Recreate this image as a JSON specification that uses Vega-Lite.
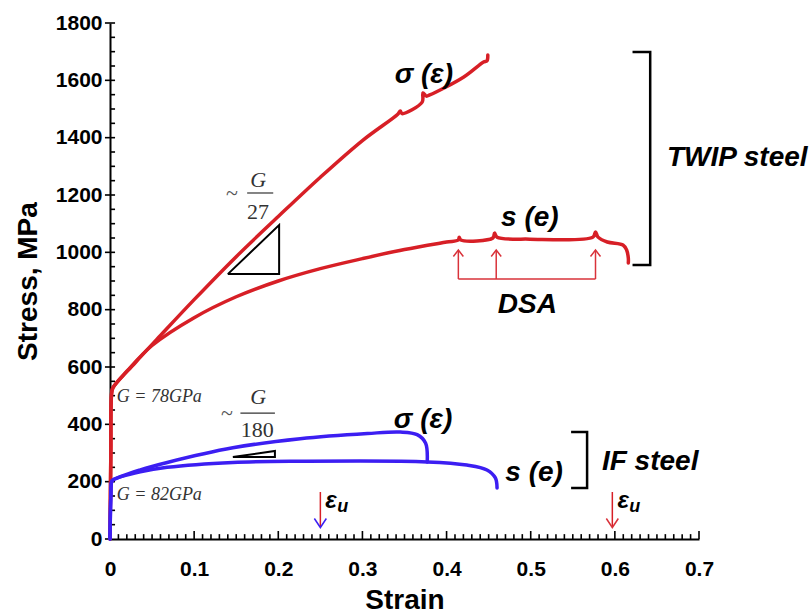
{
  "$schema": "https://vega.github.io/schema/vega-lite/v6.json",
  "width": 589,
  "height": 516,
  "autosize": "none",
  "padding": {"left": 110, "top": 23, "right": 113, "bottom": 75},
  "background": "white",
  "config": {"view": {"stroke": null}, "axis": {"labelFlush": false, "grid": false}},
  "datasets": {
    "curves": [
      {"curve": "TWIP σ", "strain": 0, "stress": 0},
      {"curve": "TWIP σ", "strain": 0.001, "stress": 300},
      {"curve": "TWIP σ", "strain": 0.002, "stress": 510},
      {"curve": "TWIP σ", "strain": 0.0036, "stress": 528},
      {"curve": "TWIP σ", "strain": 0.03, "stress": 615},
      {"curve": "TWIP σ", "strain": 0.06, "stress": 710},
      {"curve": "TWIP σ", "strain": 0.1, "stress": 835},
      {"curve": "TWIP σ", "strain": 0.15, "stress": 985},
      {"curve": "TWIP σ", "strain": 0.2, "stress": 1125},
      {"curve": "TWIP σ", "strain": 0.25, "stress": 1262},
      {"curve": "TWIP σ", "strain": 0.3, "stress": 1390},
      {"curve": "TWIP σ", "strain": 0.342, "stress": 1482},
      {"curve": "TWIP σ", "strain": 0.345, "stress": 1493},
      {"curve": "TWIP σ", "strain": 0.347, "stress": 1484},
      {"curve": "TWIP σ", "strain": 0.371, "stress": 1524},
      {"curve": "TWIP σ", "strain": 0.372, "stress": 1556},
      {"curve": "TWIP σ", "strain": 0.376, "stress": 1545},
      {"curve": "TWIP σ", "strain": 0.38, "stress": 1549},
      {"curve": "TWIP σ", "strain": 0.42, "stress": 1611},
      {"curve": "TWIP σ", "strain": 0.444, "stress": 1664},
      {"curve": "TWIP σ", "strain": 0.448, "stress": 1668},
      {"curve": "TWIP σ", "strain": 0.449, "stress": 1688},
      {"curve": "TWIP s", "strain": 0, "stress": 0},
      {"curve": "TWIP s", "strain": 0.001, "stress": 300},
      {"curve": "TWIP s", "strain": 0.002, "stress": 510},
      {"curve": "TWIP s", "strain": 0.0036, "stress": 528},
      {"curve": "TWIP s", "strain": 0.02, "stress": 585},
      {"curve": "TWIP s", "strain": 0.05, "stress": 675},
      {"curve": "TWIP s", "strain": 0.1, "stress": 772},
      {"curve": "TWIP s", "strain": 0.15, "stress": 845},
      {"curve": "TWIP s", "strain": 0.2, "stress": 900},
      {"curve": "TWIP s", "strain": 0.25, "stress": 943},
      {"curve": "TWIP s", "strain": 0.3, "stress": 978},
      {"curve": "TWIP s", "strain": 0.35, "stress": 1010},
      {"curve": "TWIP s", "strain": 0.4, "stress": 1036},
      {"curve": "TWIP s", "strain": 0.414, "stress": 1043},
      {"curve": "TWIP s", "strain": 0.415, "stress": 1053},
      {"curve": "TWIP s", "strain": 0.417, "stress": 1043},
      {"curve": "TWIP s", "strain": 0.455, "stress": 1050},
      {"curve": "TWIP s", "strain": 0.457, "stress": 1067},
      {"curve": "TWIP s", "strain": 0.46, "stress": 1053},
      {"curve": "TWIP s", "strain": 0.499, "stress": 1046},
      {"curve": "TWIP s", "strain": 0.574, "stress": 1053},
      {"curve": "TWIP s", "strain": 0.577, "stress": 1071},
      {"curve": "TWIP s", "strain": 0.58, "stress": 1053},
      {"curve": "TWIP s", "strain": 0.591, "stress": 1036},
      {"curve": "TWIP s", "strain": 0.61, "stress": 1025},
      {"curve": "TWIP s", "strain": 0.614, "stress": 1008},
      {"curve": "TWIP s", "strain": 0.616, "stress": 980},
      {"curve": "TWIP s", "strain": 0.616, "stress": 963},
      {"curve": "IF σ", "strain": 0, "stress": 0},
      {"curve": "IF σ", "strain": 0.001, "stress": 150},
      {"curve": "IF σ", "strain": 0.002, "stress": 200},
      {"curve": "IF σ", "strain": 0.0036, "stress": 206},
      {"curve": "IF σ", "strain": 0.036, "stress": 241},
      {"curve": "IF σ", "strain": 0.068, "stress": 267},
      {"curve": "IF σ", "strain": 0.146, "stress": 318},
      {"curve": "IF σ", "strain": 0.226, "stress": 350},
      {"curve": "IF σ", "strain": 0.306, "stress": 368},
      {"curve": "IF σ", "strain": 0.345, "stress": 373},
      {"curve": "IF σ", "strain": 0.365, "stress": 364},
      {"curve": "IF σ", "strain": 0.375, "stress": 335},
      {"curve": "IF σ", "strain": 0.377, "stress": 269},
      {"curve": "IF s", "strain": 0, "stress": 0},
      {"curve": "IF s", "strain": 0.001, "stress": 150},
      {"curve": "IF s", "strain": 0.002, "stress": 200},
      {"curve": "IF s", "strain": 0.0036, "stress": 206},
      {"curve": "IF s", "strain": 0.036, "stress": 234},
      {"curve": "IF s", "strain": 0.068, "stress": 250},
      {"curve": "IF s", "strain": 0.146, "stress": 267},
      {"curve": "IF s", "strain": 0.226, "stress": 271},
      {"curve": "IF s", "strain": 0.377, "stress": 269},
      {"curve": "IF s", "strain": 0.424, "stress": 258},
      {"curve": "IF s", "strain": 0.448, "stress": 241},
      {"curve": "IF s", "strain": 0.458, "stress": 213},
      {"curve": "IF s", "strain": 0.46, "stress": 178}
    ],
    "xMinor": [
      {"v": 0.01}, {"v": 0.02}, {"v": 0.03}, {"v": 0.04}, {"v": 0.05}, {"v": 0.06}, {"v": 0.07}, {"v": 0.08}, {"v": 0.09},
      {"v": 0.11}, {"v": 0.12}, {"v": 0.13}, {"v": 0.14}, {"v": 0.15}, {"v": 0.16}, {"v": 0.17}, {"v": 0.18}, {"v": 0.19},
      {"v": 0.21}, {"v": 0.22}, {"v": 0.23}, {"v": 0.24}, {"v": 0.25}, {"v": 0.26}, {"v": 0.27}, {"v": 0.28}, {"v": 0.29},
      {"v": 0.31}, {"v": 0.32}, {"v": 0.33}, {"v": 0.34}, {"v": 0.35}, {"v": 0.36}, {"v": 0.37}, {"v": 0.38}, {"v": 0.39},
      {"v": 0.41}, {"v": 0.42}, {"v": 0.43}, {"v": 0.44}, {"v": 0.45}, {"v": 0.46}, {"v": 0.47}, {"v": 0.48}, {"v": 0.49},
      {"v": 0.51}, {"v": 0.52}, {"v": 0.53}, {"v": 0.54}, {"v": 0.55}, {"v": 0.56}, {"v": 0.57}, {"v": 0.58}, {"v": 0.59},
      {"v": 0.61}, {"v": 0.62}, {"v": 0.63}, {"v": 0.64}, {"v": 0.65}, {"v": 0.66}, {"v": 0.67}, {"v": 0.68}, {"v": 0.69}
    ],
    "xMajor": [{"v": 0.1}, {"v": 0.2}, {"v": 0.3}, {"v": 0.4}, {"v": 0.5}, {"v": 0.6}, {"v": 0.7}],
    "yMinor": [
      {"v": 50}, {"v": 100}, {"v": 150}, {"v": 200}, {"v": 250}, {"v": 300}, {"v": 350}, {"v": 400}, {"v": 450}, {"v": 500},
      {"v": 550}, {"v": 600}, {"v": 650}, {"v": 700}, {"v": 750}, {"v": 800}, {"v": 850}, {"v": 900}, {"v": 950}, {"v": 1000},
      {"v": 1050}, {"v": 1100}, {"v": 1150}, {"v": 1200}, {"v": 1250}, {"v": 1300}, {"v": 1350}, {"v": 1400}, {"v": 1450}, {"v": 1500},
      {"v": 1550}, {"v": 1600}, {"v": 1650}, {"v": 1700}, {"v": 1750}, {"v": 1800}
    ],
    "yMajor": [{"v": 0}, {"v": 200}, {"v": 400}, {"v": 600}, {"v": 800}, {"v": 1000}, {"v": 1200}, {"v": 1400}, {"v": 1600}, {"v": 1800}],
    "triangles": [
      {"g": "t1", "strain": 0.14, "stress": 924},
      {"g": "t1", "strain": 0.201, "stress": 924},
      {"g": "t1", "strain": 0.201, "stress": 1095},
      {"g": "t1", "strain": 0.14, "stress": 924},
      {"g": "t2", "strain": 0.146, "stress": 286},
      {"g": "t2", "strain": 0.196, "stress": 286},
      {"g": "t2", "strain": 0.196, "stress": 307},
      {"g": "t2", "strain": 0.146, "stress": 286}
    ],
    "brackets": [
      {"g": "b1", "strain": 0.621, "stress": 1699},
      {"g": "b1", "strain": 0.642, "stress": 1699},
      {"g": "b1", "strain": 0.642, "stress": 956},
      {"g": "b1", "strain": 0.621, "stress": 956},
      {"g": "b2", "strain": 0.548, "stress": 373},
      {"g": "b2", "strain": 0.567, "stress": 373},
      {"g": "b2", "strain": 0.567, "stress": 178},
      {"g": "b2", "strain": 0.548, "stress": 178}
    ],
    "dsaLines": [
      {"g": "d1", "strain": 0.414, "stress": 907},
      {"g": "d1", "strain": 0.414, "stress": 1006},
      {"g": "d2", "strain": 0.459, "stress": 907},
      {"g": "d2", "strain": 0.459, "stress": 1006},
      {"g": "d3", "strain": 0.577, "stress": 907},
      {"g": "d3", "strain": 0.577, "stress": 1006},
      {"g": "d4", "strain": 0.414, "stress": 907},
      {"g": "d4", "strain": 0.577, "stress": 907}
    ],
    "dsaHeads": [
      {"strain": 0.414, "stress": 1008},
      {"strain": 0.459, "stress": 1008},
      {"strain": 0.577, "stress": 1008}
    ],
    "euLines": [
      {"steel": "IF", "strain": 0.25, "stress": 164},
      {"steel": "IF", "strain": 0.25, "stress": 42},
      {"steel": "TWIP", "strain": 0.597, "stress": 164},
      {"steel": "TWIP", "strain": 0.597, "stress": 42}
    ],
    "euHeads": [
      {"steel": "IF", "strain": 0.25, "stress": 40},
      {"steel": "TWIP", "strain": 0.597, "stress": 40}
    ],
    "fracLines": [
      {"g": "f1", "strain": 0.163, "stress": 1207},
      {"g": "f1", "strain": 0.194, "stress": 1207},
      {"g": "f2", "strain": 0.155, "stress": 439},
      {"g": "f2", "strain": 0.196, "stress": 439}
    ],
    "labels": [
      {"t": "σ (ε)", "strain": 0.373, "stress": 1618},
      {"t": "σ (ε)", "strain": 0.372, "stress": 415},
      {"t": "s (e)", "strain": 0.499, "stress": 1120},
      {"t": "s (e)", "strain": 0.504, "stress": 230},
      {"t": "TWIP steel", "strain": 0.7455, "stress": 1329},
      {"t": "IF steel", "strain": 0.642, "stress": 269},
      {"t": "DSA", "strain": 0.496, "stress": 816}
    ],
    "eps": [
      {"t": "ε", "strain": 0.2557, "stress": 108},
      {"t": "ε", "strain": 0.603, "stress": 108}
    ],
    "subs": [
      {"t": "u", "strain": 0.27, "stress": 94},
      {"t": "u", "strain": 0.617, "stress": 94}
    ],
    "moduli": [
      {"t": "G = 78GPa", "strain": 0.008, "stress": 495},
      {"t": "G = 82GPa", "strain": 0.008, "stress": 153}
    ],
    "fracG": [
      {"t": "G", "strain": 0.176, "stress": 1252},
      {"t": "G", "strain": 0.176, "stress": 495}
    ],
    "fracNum": [
      {"t": "27", "strain": 0.176, "stress": 1141},
      {"t": "180", "strain": 0.175, "stress": 380}
    ],
    "tilde": [
      {"t": "~", "strain": 0.145, "stress": 1207},
      {"t": "~", "strain": 0.139, "stress": 439}
    ]
  },
  "layer": [
    {
      "data": {"name": "xMinor"},
      "mark": {"type": "rule", "color": "black", "strokeWidth": 1.6},
      "encoding": {
        "x": {"field": "v", "type": "quantitative", "scale": {"domain": [0, 0.7], "nice": false, "zero": false},
          "axis": {"orient": "bottom", "values": [0, 0.1, 0.2, 0.3, 0.4, 0.5, 0.6, 0.7], "format": "~g", "title": "Strain",
            "ticks": false, "grid": false, "domain": true, "domainColor": "black", "domainWidth": 2, "labelFlush": false,
            "labelFont": "Liberation Sans", "labelFontWeight": "bold", "labelFontSize": 21, "labelColor": "black", "labelPadding": 19,
            "titleFont": "Liberation Sans", "titleFontWeight": "bold", "titleFontSize": 28, "titleColor": "black", "titlePadding": 7}},
        "y": {"datum": 0, "type": "quantitative", "scale": {"domain": [0, 1800], "nice": false, "zero": false},
          "axis": {"orient": "left", "values": [0, 200, 400, 600, 800, 1000, 1200, 1400, 1600, 1800], "format": "d", "title": "Stress, MPa",
            "ticks": false, "grid": false, "domain": true, "domainColor": "black", "domainWidth": 2,
            "labelFont": "Liberation Sans", "labelFontWeight": "bold", "labelFontSize": 21, "labelColor": "black", "labelPadding": 8,
            "titleFont": "Liberation Sans", "titleFontWeight": "bold", "titleFontSize": 28, "titleColor": "black", "titlePadding": 13}},
        "y2": {"datum": 17}
      }
    },
    {
      "data": {"name": "xMajor"},
      "mark": {"type": "rule", "color": "black", "strokeWidth": 1.6},
      "encoding": {
        "x": {"field": "v", "type": "quantitative"},
        "y": {"datum": 0, "type": "quantitative"},
        "y2": {"datum": 28}
      }
    },
    {
      "data": {"name": "yMinor"},
      "mark": {"type": "rule", "color": "black", "strokeWidth": 1.6},
      "encoding": {
        "y": {"field": "v", "type": "quantitative"},
        "x": {"datum": 0, "type": "quantitative"},
        "x2": {"datum": 0.006}
      }
    },
    {
      "data": {"name": "yMajor"},
      "mark": {"type": "rule", "color": "black", "strokeWidth": 1.6},
      "encoding": {
        "y": {"field": "v", "type": "quantitative"},
        "x": {"datum": -0.006, "type": "quantitative"},
        "x2": {"datum": 0}
      }
    },
    {
      "data": {"name": "curves"},
      "mark": {"type": "line", "strokeWidth": 3.5, "strokeJoin": "round", "strokeCap": "round", "interpolate": "catmull-rom"},
      "encoding": {
        "x": {"field": "strain", "type": "quantitative"},
        "y": {"field": "stress", "type": "quantitative"},
        "color": {"field": "curve", "type": "nominal", "legend": null,
          "scale": {"domain": ["TWIP σ", "TWIP s", "IF σ", "IF s"], "range": ["#d71f26", "#d71f26", "#3c1ef2", "#3c1ef2"]}},
        "order": {"value": null}
      }
    },
    {
      "data": {"name": "triangles"},
      "mark": {"type": "line", "color": "black", "strokeWidth": 2},
      "encoding": {
        "x": {"field": "strain", "type": "quantitative"},
        "y": {"field": "stress", "type": "quantitative"},
        "detail": {"field": "g"},
        "order": {"value": null}
      }
    },
    {
      "data": {"name": "brackets"},
      "mark": {"type": "line", "color": "black", "strokeWidth": 2.5},
      "encoding": {
        "x": {"field": "strain", "type": "quantitative"},
        "y": {"field": "stress", "type": "quantitative"},
        "detail": {"field": "g"},
        "order": {"value": null}
      }
    },
    {
      "data": {"name": "dsaLines"},
      "mark": {"type": "line", "color": "#d9323a", "strokeWidth": 1.5},
      "encoding": {
        "x": {"field": "strain", "type": "quantitative"},
        "y": {"field": "stress", "type": "quantitative"},
        "detail": {"field": "g"},
        "order": {"value": null}
      }
    },
    {
      "data": {"name": "dsaHeads"},
      "mark": {"type": "point", "shape": "M-1,1.3L0,0L1,1.3", "filled": false, "stroke": "#d9323a", "strokeWidth": 1.5, "size": 100, "opacity": 1},
      "encoding": {
        "x": {"field": "strain", "type": "quantitative"},
        "y": {"field": "stress", "type": "quantitative"}
      }
    },
    {
      "data": {"name": "euLines"},
      "mark": {"type": "line", "strokeWidth": 1.5},
      "encoding": {
        "x": {"field": "strain", "type": "quantitative"},
        "y": {"field": "stress", "type": "quantitative"},
        "color": {"field": "steel", "type": "nominal", "legend": null, "scale": {"domain": ["IF", "TWIP"], "range": ["#3c1ef2", "#d9323a"]}},
        "order": {"value": null}
      }
    },
    {
      "data": {"name": "euHeads"},
      "mark": {"type": "point", "shape": "M-1,-1.5L0,0L1,-1.5", "filled": false, "strokeWidth": 1.5, "size": 144, "opacity": 1},
      "encoding": {
        "x": {"field": "strain", "type": "quantitative"},
        "y": {"field": "stress", "type": "quantitative"},
        "stroke": {"field": "steel", "type": "nominal", "legend": null, "scale": {"domain": ["IF", "TWIP"], "range": ["#3c1ef2", "#d9323a"]}}
      }
    },
    {
      "data": {"name": "fracLines"},
      "mark": {"type": "line", "color": "#333333", "strokeWidth": 1.2},
      "encoding": {
        "x": {"field": "strain", "type": "quantitative"},
        "y": {"field": "stress", "type": "quantitative"},
        "detail": {"field": "g"}
      }
    },
    {
      "data": {"name": "labels"},
      "mark": {"type": "text", "font": "Liberation Sans", "fontWeight": "bold", "fontStyle": "italic", "fontSize": 28, "color": "black", "align": "center", "baseline": "middle"},
      "encoding": {
        "x": {"field": "strain", "type": "quantitative"},
        "y": {"field": "stress", "type": "quantitative"},
        "text": {"field": "t"}
      }
    },
    {
      "data": {"name": "eps"},
      "mark": {"type": "text", "font": "Liberation Sans", "fontWeight": "bold", "fontStyle": "italic", "fontSize": 24, "color": "black", "align": "left", "baseline": "alphabetic"},
      "encoding": {
        "x": {"field": "strain", "type": "quantitative"},
        "y": {"field": "stress", "type": "quantitative"},
        "text": {"field": "t"}
      }
    },
    {
      "data": {"name": "subs"},
      "mark": {"type": "text", "font": "Liberation Sans", "fontWeight": "bold", "fontStyle": "italic", "fontSize": 18, "color": "black", "align": "left", "baseline": "alphabetic"},
      "encoding": {
        "x": {"field": "strain", "type": "quantitative"},
        "y": {"field": "stress", "type": "quantitative"},
        "text": {"field": "t"}
      }
    },
    {
      "data": {"name": "moduli"},
      "mark": {"type": "text", "font": "Liberation Serif", "fontStyle": "italic", "fontSize": 18, "color": "#333333", "align": "left", "baseline": "middle"},
      "encoding": {
        "x": {"field": "strain", "type": "quantitative"},
        "y": {"field": "stress", "type": "quantitative"},
        "text": {"field": "t"}
      }
    },
    {
      "data": {"name": "fracG"},
      "mark": {"type": "text", "font": "Liberation Serif", "fontStyle": "italic", "fontSize": 22, "color": "#333333", "align": "center", "baseline": "middle"},
      "encoding": {
        "x": {"field": "strain", "type": "quantitative"},
        "y": {"field": "stress", "type": "quantitative"},
        "text": {"field": "t"}
      }
    },
    {
      "data": {"name": "fracNum"},
      "mark": {"type": "text", "font": "Liberation Serif", "fontSize": 22, "color": "#333333", "align": "center", "baseline": "middle"},
      "encoding": {
        "x": {"field": "strain", "type": "quantitative"},
        "y": {"field": "stress", "type": "quantitative"},
        "text": {"field": "t"}
      }
    },
    {
      "data": {"name": "tilde"},
      "mark": {"type": "text", "font": "Liberation Serif", "fontSize": 22, "color": "#555555", "align": "center", "baseline": "middle"},
      "encoding": {
        "x": {"field": "strain", "type": "quantitative"},
        "y": {"field": "stress", "type": "quantitative"},
        "text": {"field": "t"}
      }
    }
  ]
}
